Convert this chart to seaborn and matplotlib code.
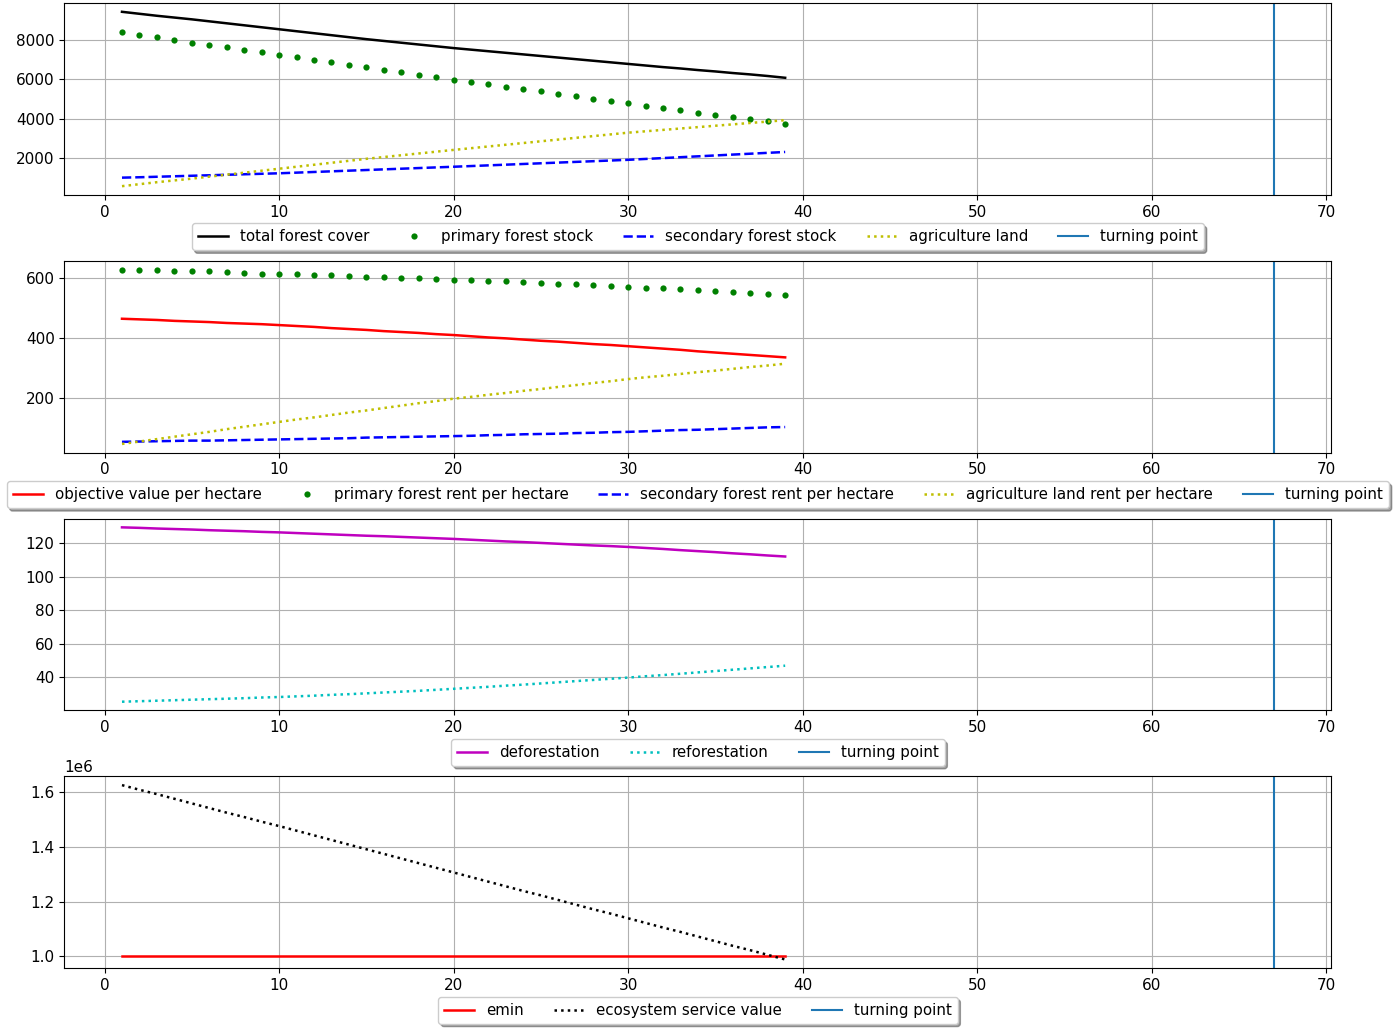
import matplotlib
matplotlib.use("Agg")
import matplotlib.pyplot as plt
import seaborn as sns
import numpy as np

# time periods and turning point
t = list(range(1, 40))
turning_point = 67

# panel 1: land stocks
total_forest = [9400, 9300, 9200, 9110, 9020, 8920, 8820, 8720, 8620, 8520,
                8420, 8320, 8220, 8120, 8020, 7930, 7840, 7750, 7660, 7570,
                7490, 7410, 7330, 7250, 7170, 7090, 7010, 6930, 6850, 6770,
                6690, 6610, 6540, 6460, 6390, 6310, 6240, 6160, 6070]
primary_stock = [8367, 8250, 8117, 7983, 7850, 7733, 7600, 7467, 7350, 7217,
                 7100, 6967, 6850, 6717, 6600, 6483, 6367, 6233, 6100, 5983,
                 5867, 5750, 5617, 5500, 5383, 5250, 5133, 5017, 4900, 4783,
                 4667, 4550, 4433, 4317, 4200, 4100, 4000, 3867, 3750]
secondary_stock = [1030, 1050, 1075, 1100, 1125, 1150, 1175, 1200, 1225, 1250,
                   1283, 1316, 1349, 1382, 1415, 1448, 1481, 1514, 1547, 1580,
                   1615, 1650, 1685, 1720, 1755, 1790, 1825, 1860, 1895, 1930,
                   1974, 2018, 2062, 2106, 2150, 2194, 2238, 2282, 2326]
agri_land = [600, 700, 800, 890, 980, 1080, 1180, 1280, 1380, 1480,
             1580, 1680, 1780, 1880, 1980, 2070, 2160, 2250, 2340, 2430,
             2517, 2604, 2691, 2778, 2865, 2952, 3039, 3126, 3213, 3300,
             3370, 3440, 3510, 3580, 3650, 3720, 3790, 3860, 3930]

# panel 2: rents per hectare
objective_ha = [464, 462, 460, 457, 455, 453, 450, 448, 446, 443,
                440, 437, 433, 430, 427, 423, 420, 417, 413, 410,
                406, 402, 399, 395, 391, 388, 384, 380, 377, 373,
                369, 365, 361, 356, 352, 348, 344, 340, 336]
primary_rent = [627, 625, 624, 623, 622, 621, 619, 616, 614, 613,
                611, 610, 608, 605, 604, 602, 600, 598, 596, 593,
                592, 590, 588, 586, 582, 580, 578, 576, 574, 570,
                567, 565, 563, 559, 556, 553, 549, 546, 543]
secondary_rent = [56, 57, 58, 59, 60, 60, 61, 62, 63, 64,
                  65, 66, 67, 68, 70, 71, 72, 73, 74, 75,
                  76, 78, 79, 81, 82, 83, 85, 86, 88, 89,
                  91, 93, 95, 96, 98, 100, 102, 104, 105]
agri_rent = [49, 57, 65, 73, 81, 89, 98, 106, 114, 122,
             130, 137, 145, 153, 160, 168, 176, 184, 191, 199,
             205, 212, 218, 225, 231, 238, 244, 251, 257, 264,
             270, 275, 281, 287, 292, 298, 304, 309, 315]

# panel 3: land-use flows
deforestation = [129.5, 129.2, 128.8, 128.5, 128.2, 127.8, 127.5, 127.2, 126.8, 126.5,
                 126.1, 125.7, 125.3, 124.9, 124.5, 124.2, 123.8, 123.4, 123.0, 122.6,
                 122.1, 121.6, 121.1, 120.7, 120.2, 119.7, 119.2, 118.7, 118.3, 117.8,
                 117.2, 116.6, 115.9, 115.3, 114.7, 114.0, 113.4, 112.7, 112.1]
reforestation = [25.4, 25.7, 26.0, 26.3, 26.6, 26.9, 27.2, 27.5, 27.9, 28.2,
                 28.6, 29.0, 29.5, 29.9, 30.4, 30.9, 31.4, 31.9, 32.5, 33.1,
                 33.7, 34.3, 35.0, 35.6, 36.3, 37.0, 37.7, 38.4, 39.1, 39.8,
                 40.6, 41.3, 42.1, 42.9, 43.7, 44.5, 45.3, 46.1, 46.9]

# panel 4: ecosystem service value
emin = [1.0e6] * 39
esv = [1.627e6, 1.610e6, 1.594e6, 1.577e6, 1.560e6, 1.543e6, 1.526e6, 1.510e6, 1.493e6, 1.477e6,
       1.460e6, 1.443e6, 1.426e6, 1.409e6, 1.392e6, 1.375e6, 1.358e6, 1.341e6, 1.324e6, 1.307e6,
       1.290e6, 1.273e6, 1.256e6, 1.239e6, 1.223e6, 1.206e6, 1.189e6, 1.172e6, 1.156e6, 1.139e6,
       1.122e6, 1.105e6, 1.089e6, 1.072e6, 1.055e6, 1.038e6, 1.022e6, 1.005e6, 0.988e6]

fig, axes = plt.subplots(4, 1, figsize=(14, 10.3), dpi=100)
fig.subplots_adjust(left=0.046, right=0.951, top=0.997, bottom=0.06, hspace=0.344)


def finish(ax, n):
    ax.axvline(turning_point, color="C0", label="turning point")
    ax.grid(True)
    ax.legend(loc="upper center", bbox_to_anchor=(0.5, -0.11), ncol=n,
              shadow=True, fontsize=10.8)
    ax.tick_params(labelsize=11)


ax = axes[0]
sns.lineplot(x=t, y=total_forest, color="k", lw=1.8, label="total forest cover", ax=ax)
sns.lineplot(x=t, y=primary_stock, color="g", linestyle="", marker="o", markersize=4.5,
             markeredgewidth=0, label="primary forest stock", ax=ax)
sns.lineplot(x=t, y=secondary_stock, color="b", linestyle="--", lw=1.8, label="secondary forest stock", ax=ax)
sns.lineplot(x=t, y=agri_land, color="y", linestyle=":", lw=1.8, label="agriculture land", ax=ax)
finish(ax, 5)

ax = axes[1]
sns.lineplot(x=t, y=objective_ha, color="r", lw=1.8, label="objective value per hectare", ax=ax)
sns.lineplot(x=t, y=primary_rent, color="g", linestyle="", marker="o", markersize=4.5,
             markeredgewidth=0, label="primary forest rent per hectare", ax=ax)
sns.lineplot(x=t, y=secondary_rent, color="b", linestyle="--", lw=1.8, label="secondary forest rent per hectare", ax=ax)
sns.lineplot(x=t, y=agri_rent, color="y", linestyle=":", lw=1.8, label="agriculture land rent per hectare", ax=ax)
finish(ax, 5)

ax = axes[2]
sns.lineplot(x=t, y=deforestation, color="m", lw=1.8, label="deforestation", ax=ax)
sns.lineplot(x=t, y=reforestation, color="c", linestyle=":", lw=1.8, label="reforestation", ax=ax)
finish(ax, 3)

ax = axes[3]
sns.lineplot(x=t, y=emin, color="r", lw=1.8, label="emin", ax=ax)
sns.lineplot(x=t, y=esv, color="k", linestyle=":", lw=1.8, label="ecosystem service value", ax=ax)
finish(ax, 3)
ax.yaxis.get_offset_text().set_fontsize(11)

fig.savefig("out.png", dpi=100)
